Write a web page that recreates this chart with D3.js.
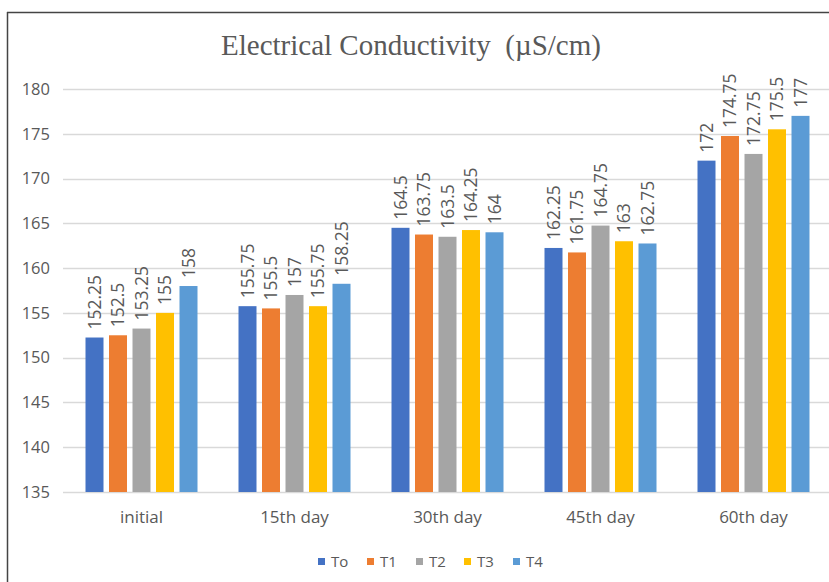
<!DOCTYPE html>
<html>
<head>
<meta charset="utf-8">
<script src="https://cdn.jsdelivr.net/npm/d3@7/dist/d3.min.js"></script>
<style>
  html, body { margin: 0; padding: 0; background: #ffffff; overflow: hidden; }
  svg { display: block; }
</style>
</head>
<body>
<svg id="chart" width="829" height="582"></svg>
<script>
const categories = ["initial", "15th day", "30th day", "45th day", "60th day"];
const seriesNames = ["To", "T1", "T2", "T3", "T4"];
const valuesTo = [152.25, 155.75, 164.5, 162.25, 172];
const valuesT1 = [152.5, 155.5, 163.75, 161.75, 174.75];
const valuesT2 = [153.25, 157, 163.5, 164.75, 172.75];
const valuesT3 = [155, 155.75, 164.25, 163, 175.5];
const valuesT4 = [158, 158.25, 164, 162.75, 177];
const yTicks = [135, 140, 145, 150, 155, 160, 165, 170, 175, 180];
const colors = ["#4472C4", "#ED7D31", "#A5A5A5", "#FFC000", "#5B9BD5"];
const titleText = "Electrical Conductivity  (µS/cm)";

const allValues = [valuesTo, valuesT1, valuesT2, valuesT3, valuesT4];

const svg = d3.select("#chart");
const font = "'Open Sans', 'Noto Sans', sans-serif";
const textColor = "#595959";

// outer frame: only left and top edges are visible (cropped on right/bottom)
svg.append("line")
  .attr("x1", 7.5).attr("x2", 7.5).attr("y1", 12).attr("y2", 582)
  .attr("stroke", "#444444").attr("stroke-width", 1.5);
svg.append("line")
  .attr("x1", 7).attr("x2", 829).attr("y1", 12.5).attr("y2", 12.5)
  .attr("stroke", "#444444").attr("stroke-width", 1.5);

const x0 = d3.scaleBand().domain(categories).range([65, 830]).padding(0);
const groupW = 112;
const x1 = d3.scaleBand().domain(seriesNames).range([-groupW / 2, groupW / 2])
  .paddingInner(0.234).paddingOuter(0);
const y = d3.scaleLinear().domain([135, 180]).range([492, 89]);

// gridlines
svg.append("g")
  .selectAll("line")
  .data(yTicks)
  .join("line")
  .attr("x1", 63).attr("x2", 829)
  .attr("y1", d => Math.round(y(d)) + 0.5)
  .attr("y2", d => Math.round(y(d)) + 0.5)
  .attr("stroke", "#D9D9D9")
  .attr("stroke-width", 1.3);

// y axis labels
const yAxis = d3.axisLeft(y).tickValues(yTicks).tickSize(0).tickPadding(0);
const yg = svg.append("g").attr("transform", "translate(50,0)").call(yAxis);
yg.select(".domain").remove();
yg.selectAll("text")
  .attr("fill", textColor)
  .style("font-family", font)
  .style("font-size", "16.5px");

// bars
const groups = svg.append("g")
  .selectAll("g")
  .data(categories)
  .join("g")
  .attr("transform", d => `translate(${x0(d) + x0.bandwidth() / 2},0)`);

groups.each(function (cat, ci) {
  const g = d3.select(this);
  const rows = seriesNames.map((s, si) => ({ s, si, v: allValues[si][ci] }));
  g.selectAll("rect")
    .data(rows)
    .join("rect")
    .attr("x", d => x1(d.s))
    .attr("width", x1.bandwidth())
    .attr("y", d => y(d.v))
    .attr("height", d => y(135) - y(d.v))
    .attr("fill", d => colors[d.si]);
  g.selectAll("text")
    .data(rows)
    .join("text")
    .attr("transform", d => `translate(${x1(d.s) + x1.bandwidth() / 2},${y(d.v) - 8}) rotate(-90)`)
    .attr("dy", "0.35em")
    .attr("text-anchor", "start")
    .attr("fill", textColor)
    .style("font-family", font)
    .style("font-size", "17.5px")
    .text(d => d.v);
});

// x axis category labels
const xAxis = d3.axisBottom(x0).tickSize(0).tickPadding(0);
const xg = svg.append("g").attr("transform", "translate(0,511)").call(xAxis);
xg.select(".domain").remove();
xg.selectAll("text")
  .attr("fill", textColor)
  .style("font-family", font)
  .style("font-size", "17px");

// title
svg.append("text")
  .attr("x", 411).attr("y", 55)
  .attr("text-anchor", "middle")
  .attr("fill", textColor)
  .style("white-space", "pre")
  .style("font-family", "'Liberation Serif', 'Times New Roman', serif")
  .style("font-size", "29px")
  .text(titleText);

// legend
const legendX = [318, 367, 416, 464, 513];
const legend = svg.append("g")
  .selectAll("g")
  .data(seriesNames)
  .join("g")
  .attr("transform", (d, i) => `translate(${legendX[i]},562)`);
legend.append("rect")
  .attr("x", 0).attr("y", -4)
  .attr("width", 7).attr("height", 7)
  .attr("fill", (d, i) => colors[i]);
legend.append("text")
  .attr("x", 13).attr("y", 0)
  .attr("dy", "0.35em")
  .attr("fill", textColor)
  .style("font-family", font)
  .style("font-size", "15px")
  .text(d => d);
</script>
</body>
</html>
